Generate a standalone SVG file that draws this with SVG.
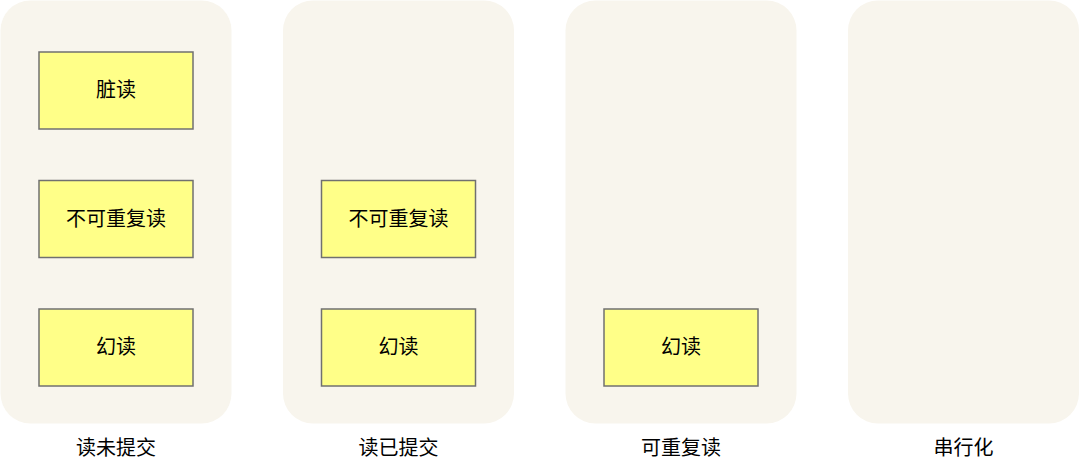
<svg xmlns="http://www.w3.org/2000/svg" width="1080" height="464" viewBox="0 0 1080 464">
<style>
.panel{fill:#f8f5ed;}
.box{fill:#ffff88;stroke:#707070;stroke-width:1.5;}
.t{font-family:"Noto Sans CJK SC","Noto Sans",sans-serif;font-size:20px;fill:#000;text-anchor:middle;dominant-baseline:central;}
</style>
<rect width="1080" height="464" fill="#ffffff"/>
<g id="panel1">
<rect class="panel" x="0.5" y="0.5" width="231" height="423" rx="30"/>
<text class="t" x="116" y="446">读未提交</text>
</g>
<g id="panel2">
<rect class="panel" x="283" y="0.5" width="231" height="423" rx="30"/>
<text class="t" x="398.5" y="446">读已提交</text>
</g>
<g id="panel3">
<rect class="panel" x="565.5" y="0.5" width="231" height="423" rx="30"/>
<text class="t" x="681" y="446">可重复读</text>
</g>
<g id="panel4">
<rect class="panel" x="848" y="0.5" width="231" height="423" rx="30"/>
<text class="t" x="963.5" y="446">串行化</text>
</g>
<g id="n1-1"><rect class="box" x="39" y="52" width="154" height="77"/><text class="t" x="116" y="88.5">脏读</text></g>
<g id="n1-2"><rect class="box" x="39" y="180.5" width="154" height="77"/><text class="t" x="116" y="217">不可重复读</text></g>
<g id="n1-3"><rect class="box" x="39" y="309" width="154" height="77"/><text class="t" x="116" y="345.5">幻读</text></g>
<g id="n2-2"><rect class="box" x="321.5" y="180.5" width="154" height="77"/><text class="t" x="398.5" y="217">不可重复读</text></g>
<g id="n2-3"><rect class="box" x="321.5" y="309" width="154" height="77"/><text class="t" x="398.5" y="345.5">幻读</text></g>
<g id="n3-3"><rect class="box" x="604" y="309" width="154" height="77"/><text class="t" x="681" y="345.5">幻读</text></g>
<g id="connectors"></g>
</svg>
